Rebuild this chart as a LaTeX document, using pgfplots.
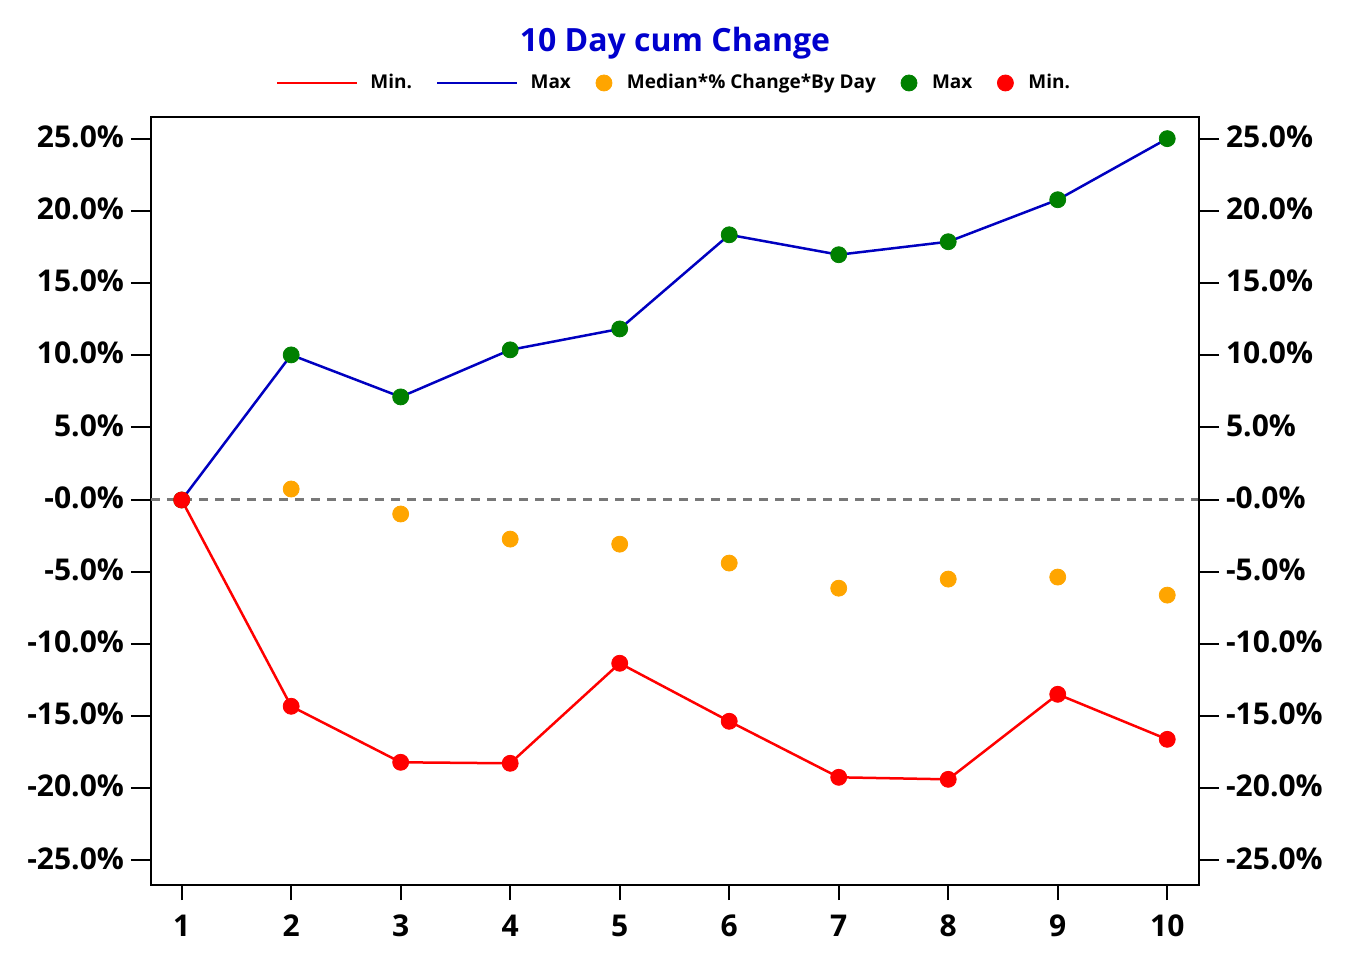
\documentclass[border=0pt]{standalone}
\usepackage{fontspec}
\setmainfont{Open Sans}
\usepackage{pgfplots}
\pgfplotsset{compat=1.18}
\definecolor{maxblue}{RGB}{0,0,192}
\definecolor{titleblue}{RGB}{0,0,205}
\definecolor{minred}{RGB}{255,0,0}
\definecolor{medorange}{RGB}{255,165,0}
\definecolor{maxgreen}{RGB}{0,128,0}
\definecolor{zerogray}{RGB}{120,120,120}
\pgfplotsset{
  longline/.style={legend image code/.code={\draw[##1] (0pt,0pt) -- (40pt,0pt);}},
  dot/.style={legend image code/.code={\path[draw=none,fill=none] (-4.5pt,-1pt) rectangle (5.5pt,1pt); \fill[##1] (0pt,0pt) circle (4pt);}},
  common/.style={
    scale only axis, width=524pt, height=384pt,
    xmin=0.72, xmax=10.29, ymin=-26.7, ymax=26.5,
    ytick={-25,-20,...,25},
    yticklabels={-25.0\%,-20.0\%,-15.0\%,-10.0\%,-5.0\%,-0.0\%,5.0\%,10.0\%,15.0\%,20.0\%,25.0\%},
    tick align=outside, major tick length=10pt,
    axis line style={line width=1pt},
    tick style={black, line width=1pt},
    ticklabel style={font=\bfseries\fontsize{15}{18}\selectfont},
    yticklabel style={yshift=1pt},
    /pgf/number format/assume math mode=true,
  }
}
\begin{document}
\begin{tikzpicture}
\begin{axis}[common, name=ax,
  xtick={1,...,10}, ytick pos=left, xtick pos=bottom,
  xtick style={/pgfplots/major tick length=7.5pt},
  xticklabel style={yshift=-1.5pt},
  title={10 Day cum Change},
  title style={at={(0.5,1.0807)}, anchor=center, text=titleblue,
    font=\bfseries\fontsize{16}{19}\selectfont},
  legend style={at={(0.5,1.0443)}, anchor=center, draw=none, fill=none,
    legend columns=-1, font=\bfseries\fontsize{9.5}{11}\selectfont,
    /tikz/every odd column/.append style={column sep=4pt},
    /tikz/every even column/.append style={column sep=10pt}},
]
\addplot[zerogray, line width=1.4pt, dash pattern=on 4.5pt off 3.5pt, forget plot]
  coordinates {(0.72,0) (10.29,0)};
\addplot[minred, line width=1.25pt, mark=none, longline]
  coordinates {(1,-0.03) (2,-14.32) (3,-18.2) (4,-18.27) (5,-11.34) (6,-15.36) (7,-19.24) (8,-19.38) (9,-13.49) (10,-16.61)};
\addplot[maxblue, line width=1.25pt, mark=none, longline]
  coordinates {(1,-0.03) (2,10.02) (3,7.11) (4,10.37) (5,11.82) (6,18.34) (7,16.96) (8,17.86) (9,20.77) (10,25.0)};
\addplot[only marks, mark=*, mark size=4pt, color=medorange, dot]
  coordinates {(2,0.73) (3,-1.0) (4,-2.74) (5,-3.09) (6,-4.40) (7,-6.14) (8,-5.51) (9,-5.37) (10,-6.62)};
\addplot[only marks, mark=*, mark size=4pt, color=maxgreen, dot]
  coordinates {(1,-0.03) (2,10.02) (3,7.11) (4,10.37) (5,11.82) (6,18.34) (7,16.96) (8,17.86) (9,20.77) (10,25.0)};
\addplot[only marks, mark=*, mark size=4pt, color=minred, dot]
  coordinates {(1,-0.03) (2,-14.32) (3,-18.2) (4,-18.27) (5,-11.34) (6,-15.36) (7,-19.24) (8,-19.38) (9,-13.49) (10,-16.61)};
\legend{Min., Max, Median*\% Change*By Day, Max, Min.}
\end{axis}
\begin{axis}[common, axis x line=none, axis y line*=right]
\addplot[draw=none] coordinates {(1,0)};
\end{axis}
\path ([shift={(-75.5pt,-45pt)}]ax.south west) rectangle ([shift={(75.5pt,58.5pt)}]ax.north east);
\end{tikzpicture}
\end{document}
